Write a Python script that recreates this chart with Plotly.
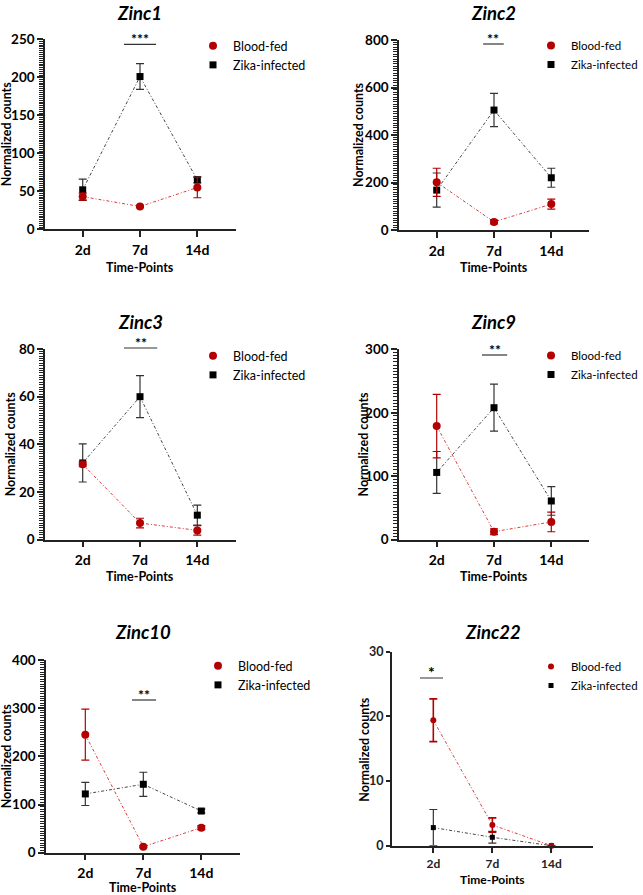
import plotly.graph_objects as go

# ---------------- data ----------------
timepoints = ["2d", "7d", "14d"]
genes = ["Zinc1", "Zinc2", "Zinc3", "Zinc9", "Zinc10", "Zinc22"]

zinc1_blood = [43, 30, 55]
zinc1_blood_err = [4.5, 1.5, 13.5]
zinc1_zika = [52, 201, 65]
zinc1_zika_err = [14, 17, 4]

zinc2_blood = [201, 34, 109]
zinc2_blood_err = [59, 8, 21]
zinc2_zika = [168, 505, 220]
zinc2_zika_err = [72, 70, 40]

zinc3_blood = [31.6, 7.0, 3.9]
zinc3_blood_err = [1.0, 2.0, 2.0]
zinc3_zika = [32.2, 60, 10.3]
zinc3_zika_err = [8, 8.8, 4.2]

zinc9_blood = [179, 12.6, 28]
zinc9_blood_err = [50, 4.5, 15.5]
zinc9_zika = [106, 208, 61]
zinc9_zika_err = [33, 37, 22.5]

zinc10_blood = [245, 12.5, 52]
zinc10_blood_err = [53, 2, 4]
zinc10_zika = [122, 142, 86.5]
zinc10_zika_err = [24, 25, 4]

zinc22_blood = [19.4, 3.2, 0]
zinc22_blood_err = [3.3, 1.1, 0]
zinc22_zika = [2.8, 1.3, 0]
zinc22_zika_err = [2.8, 0.9, 0]

significance = ["***", "**", "**", "**", "**", "*"]
y_max = [250, 800, 80, 300, 400, 30]
y_dtick = [50, 200, 20, 100, 100, 10]
y_minor = [2.5, 10, 1, 5, 5, None]

blood = [zinc1_blood, zinc2_blood, zinc3_blood, zinc9_blood, zinc10_blood, zinc22_blood]
blood_err = [zinc1_blood_err, zinc2_blood_err, zinc3_blood_err, zinc9_blood_err,
             zinc10_blood_err, zinc22_blood_err]
zika = [zinc1_zika, zinc2_zika, zinc3_zika, zinc9_zika, zinc10_zika, zinc22_zika]
zika_err = [zinc1_zika_err, zinc2_zika_err, zinc3_zika_err, zinc9_zika_err,
            zinc10_zika_err, zinc22_zika_err]

# ---------------- layout (pixel geometry) ----------------
W, H = 643, 895
FONT = "Lato"
RED = "#B30000"
BLACK = "#000000"

# plot areas: left, right, top, bottom (px)
boxes = [
    (45, 236, 39.3, 229.3),
    (399, 589, 40, 230),
    (45, 236, 349, 539.7),
    (399, 589, 349.3, 539.7),
    (46, 240, 660, 852.7),
    (391.7, 592.7, 651.7, 845.7),
]
xranges = [(-0.658, 2.675), (-0.658, 2.658), (-0.658, 2.675), (-0.658, 2.658),
           (-0.678, 2.667), (-0.705, 2.70)]
titles_pos = [(139, 0), (493, 0), (140, 309), (493, 309), (143, 619), (493, 619)]
legend_x = [193, None, 193, None, 198, None]   # left edge of legend box (px); None = flush right
legend_y = [46, 46, 356, 356, 666, 667]       # centre of first legend row (px)
legend_font = [12.5, 11.5, 12.5, 11.5, 12.5, 11.5]
xtitle_y = [267, 267, 576, 576, 887.5, 879]
ytitle_x = [6, 358, 10, 363, 6, 365]
sig_x = [(0.72, 1.28), (0.81, 1.17), (0.72, 1.30), (0.79, 1.23), (0.805, 1.22), (-0.225, 0.164)]
sig_y = [44.3, 44, 348, 355, 700, 678]


def px(x):
    return x / W


def py(y):
    return 1 - y / H


fig = go.Figure()
layout = dict(
    width=W, height=H,
    margin=dict(l=0, r=0, t=0, b=0, autoexpand=False),
    paper_bgcolor="white", plot_bgcolor="rgba(0,0,0,0)",
    font=dict(family=FONT, color="black"),
    showlegend=True,
)
annotations = []
shapes = []

for i in range(6):
    n = "" if i == 0 else str(i + 1)
    xa, ya = "x" + n, "y" + n
    l, r, t, b = boxes[i]
    small = (i == 5)
    ytick_font = dict(family=FONT, size=12.5 if small else 13.5, color="#222" if small else "black",
                      weight="bold")
    xtick_font = dict(family=FONT, size=12 if small else 14, color="#222" if small else "black",
                      weight="bold")
    lg = "legend" + n

    layout["xaxis" + n] = dict(
        domain=[px(l), px(r)], anchor=ya, range=list(xranges[i]), automargin=False,
        tickmode="array", tickvals=[0, 1, 2], ticktext=timepoints,
        showgrid=False, zeroline=False, showline=True, linecolor="#222", linewidth=1.5,
        ticks="outside", ticklen=6, tickwidth=1.5, tickcolor="#222",
        tickfont=xtick_font, ticklabelstandoff=0 if small else 1,
    )
    yax = dict(
        domain=[py(b), py(t)], anchor=xa, range=[0, y_max[i]], automargin=False,
        tickmode="linear", dtick=y_dtick[i], tick0=0,
        showgrid=False, zeroline=False, showline=True, linecolor="#222", linewidth=1.5,
        ticks="outside", ticklen=6 if not small else 4, tickwidth=1.5, tickcolor="#222",
        tickfont=ytick_font, ticklabelstandoff=0,
    )
    if y_minor[i]:
        yax["minor"] = dict(dtick=y_minor[i], tick0=0, ticks="outside", ticklen=4,
                            tickwidth=1, tickcolor="#222", showgrid=False)
    layout["yaxis" + n] = yax

    # axis titles
    annotations.append(dict(
        text="<b>Time-Points</b>", x=1, xref=xa, y=py(xtitle_y[i]), yref="paper",
        xanchor="center", yanchor="middle", showarrow=False,
        font=dict(family=FONT, size=12 if small else 12.5, color="black")))
    annotations.append(dict(
        text="<b>Normalized counts</b>", x=px(ytitle_x[i]), xref="paper",
        y=py((t + b) / 2), yref="paper", textangle=-90,
        xanchor="center", yanchor="middle", showarrow=False,
        font=dict(family=FONT, size=12.5, color="black")))

    msize_c = 6 if small else 8
    msize_s = 5 if small else 7

    # connecting lines
    fig.add_trace(go.Scatter(x=[0, 1, 2], y=zika[i], mode="lines", xaxis=xa, yaxis=ya,
                             line=dict(color="rgba(50,50,50,0.9)", width=1, dash="3px,2px,1px,2px"),
                             showlegend=False, hoverinfo="skip"))
    fig.add_trace(go.Scatter(x=[0, 1, 2], y=blood[i], mode="lines", xaxis=xa, yaxis=ya,
                             line=dict(color="rgba(215,40,40,0.9)", width=1, dash="3px,2px,1px,2px"),
                             showlegend=False, hoverinfo="skip"))
    # markers with error bars
    fig.add_trace(go.Scatter(
        x=[0, 1, 2], y=zika[i], mode="markers", xaxis=xa, yaxis=ya, name="Zika-infected",
        marker=dict(symbol="square", size=msize_s, color=BLACK),
        error_y=dict(type="data", array=zika_err[i], color="#333", thickness=1.2, width=4),
        legend=lg, legendrank=2, cliponaxis=False))
    fig.add_trace(go.Scatter(
        x=[0, 1, 2], y=blood[i], mode="markers", xaxis=xa, yaxis=ya, name="Blood-fed",
        marker=dict(symbol="circle", size=msize_c, color=RED),
        error_y=dict(type="data", array=blood_err[i], color=RED, thickness=1.6 if small else 1.2, width=4),
        legend=lg, legendrank=1, cliponaxis=False))

    leg = dict(
        y=py(legend_y[i] - 15), yanchor="top",
        bgcolor="rgba(0,0,0,0)", borderwidth=0,
        font=dict(family=FONT, size=legend_font[i], color="black"),
        tracegroupgap=0, itemclick=False, itemdoubleclick=False,
    )
    if legend_x[i] is None:
        leg.update(x=1, xanchor="right")
    else:
        leg.update(x=px(legend_x[i]), xanchor="left")
    layout[lg] = leg

    # title
    tx, ty = titles_pos[i]
    annotations.append(dict(
        text="<b><i>%s</i></b>" % genes[i], x=px(tx), y=py(ty), xref="paper", yref="paper",
        xanchor="center", yanchor="top", showarrow=False,
        font=dict(family=FONT, size=18.5, color="black")))

    # significance bar
    x0, x1 = sig_x[i]
    shapes.append(dict(type="line", xref=xa, yref="paper", x0=x0, x1=x1,
                       y0=py(sig_y[i]), y1=py(sig_y[i]),
                       line=dict(color="#333", width=1.2)))
    annotations.append(dict(
        text="<b>%s</b>" % significance[i], x=(x0 + x1) / 2, xref=xa,
        y=py(sig_y[i] - (7 if small else 5.5)), yref="paper", xanchor="center", yanchor="middle",
        showarrow=False, font=dict(family=FONT, size=14 if not small else 16, color="black")))

layout["annotations"] = annotations
layout["shapes"] = shapes
fig.update_layout(**layout)
fig.write_html("out.html", config={"displayModeBar": False},
               post_script="document.body.style.margin='0';document.body.style.overflow='hidden';")
